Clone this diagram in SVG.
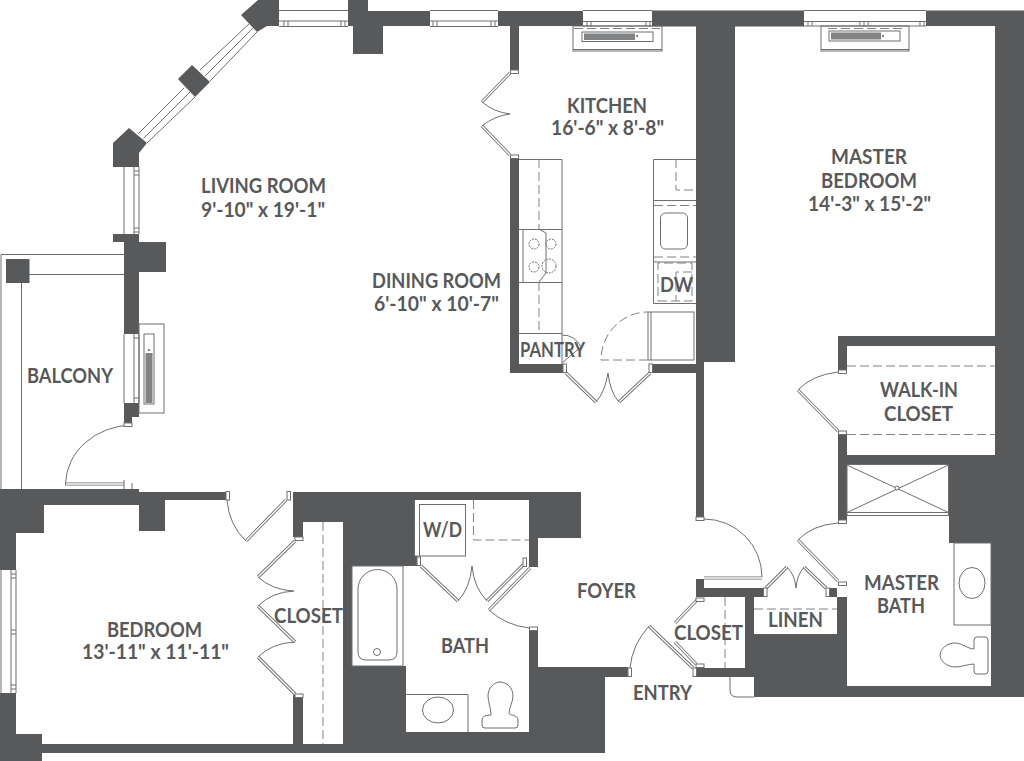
<svg xmlns="http://www.w3.org/2000/svg" width="1024" height="761" viewBox="0 0 1024 761">
<style>
.w{fill:#58595b}
.l{fill:none;stroke:#6d6e71;stroke-width:1}
.f{fill:#fff;stroke:#6d6e71;stroke-width:1}
.d{fill:none;stroke:#808285;stroke-width:1;stroke-dasharray:9 4}
.lo{fill:none;stroke:#6d6e71;stroke-width:3.2}
.li{fill:none;stroke:#fff;stroke-width:1.4}
.h{fill:#58595b}
text{font-family:"Lato","Open Sans",sans-serif;font-weight:700;font-size:20.5px;fill:#58595b}
</style>
<defs>
<path id="leaves" d="M510,73L482,102M510,155L482,126M566,373L596,402M650,373L619,402M286,500L246,541M295,541L258,577M258,606L295,642M258,657L295,694M421,566L458,601M487,601L523,565M489,610L530,568M704,578H762M766,588L787,567M804,567L826,588M838,581L798,540M838,431L798,390M649,626L693,668M697,600L675,623M675,642L696,664"/>
<g id="jamb"><rect width="8" height="3.5" class="f"/></g>
<g id="jambv"><rect width="3.5" height="8.5" class="f"/></g>
</defs>
<rect width="1024" height="761" fill="#fff"/>

<g id="walls">
<polygon class="w" points="241,15 258,0 279,0 279,26 267,26 257,32"/>
<polygon class="w" points="348,0 368,0 368,11 430,11 430,26 383,26 383,54 353,54 353,26 348,26"/>
<polygon class="w" points="178,79 192,65 210,82 195,97"/>
<polygon class="w" points="113,143 129,128 147,143 139,153 139,167 113,167"/>
<polygon class="w" points="498,11 583,11 583,26 519,26 519,71 510,71 510,26 498,26"/>
<rect class="w" x="652" y="10.500" width="152" height="16"/>
<polygon class="w" points="926,10.500 1024,10.500 1024,697 754,697 754,634 837,634 837,588 827,588 827,597 847,597 847,686 991,686 991,543 949,543 949,464 847,464 847,523 838,523 838,432 847,432 847,455 995,455 995,346 847,346 847,370 838,370 838,336 995,336 995,26 926,26"/>
<polygon class="w" points="696,26 735,26 735,362 704,362 704,517 696,517"/>
<rect class="w" x="510" y="158" width="9" height="215"/>
<rect class="w" x="510" y="364" width="53" height="9"/>
<rect class="w" x="652" y="364" width="44" height="9"/>
<polygon class="w" points="696,579 704,579 704,588 764,588 764,597 754,597 754,677 696,677 696,668 745,668 745,597 696,597"/>
<polygon class="w" points="113,234 139,234 139,242 166,242 166,272 139,272 139,334 124,334 124,242 113,242"/>
<polygon class="w" points="124,403 139,403 139,417 132,417 132,423 124,423"/>
<polygon class="w" points="0,489 139,489 139,492 226,492 226,500 165,500 165,531 139,531 139,505 44,505 44,533 16,533 16,570 0,570"/>
<polygon class="w" points="0,693 16,693 16,734 42,734 42,744 293,744 293,695 303,695 303,744 343,744 343,522 303,522 303,537 293,537 293,492 581,492 581,538 538,538 538,567 529,567 529,500 414,500 414,556 417,556 417,566 352,566 352,666 406,666 406,732 529,732 529,630 538,630 538,667 628,667 628,677 605,677 605,753 42,753 42,761 0,761"/>
</g>

<g id="windows">
<path class="l" d="M279,10.500H348M279,21H348M279,26.500H348M430,10.500H498M430,21H498M430,26.500H498M583,10.500H652M583,21.500H652M583,26H652M804,10.500H926M804,21.500H926M804,26H926"/>
<path class="l" d="M284,21V26M288,21V26M341,21V26M345,21V26M433,21V26M437,21V26M491,21V26M495,21V26M587,21V26M591,21V26M646,21V26M650,21V26M808,21V26M812,21V26M860,21V26M864,21V26M868,21V26M920,21V26M924,21V26"/>
<path class="l" d="M138,134L184,88M147,143L195,97M143.500,138.500L190,92M200,70L250,23M210,81L257,32M205,76L253,28"/>
<path class="l" d="M124,167V234M134,167V234M139,167V234M134,171H139M134,175H139M134,228H139M134,232H139"/>
<path class="l" d="M124,334V403M134,334V403M139,334V403M134,338H139M134,398H139"/>
<path class="l" d="M1,570V693M11,570V693M16,570V693M11,574H16M11,578H16M11,630H16M11,634H16M11,685H16M11,689H16"/>
</g>

<g id="balcony">
<path class="l" d="M124,254.500H1V489M29,274.500H124M21.500,283V489"/>
<rect class="w" x="6" y="259" width="23.500" height="24"/>
</g>

<g id="heaters">
<g>
<rect class="l" x="573" y="26" width="89" height="25"/>
<path class="l" d="M573,49.500H662"/>
<path class="d" d="M574,28.500H660"/>
<rect class="l" x="582" y="32" width="71" height="9.500"/>
<rect class="h" x="584" y="33.500" width="51" height="6.500" opacity=".75"/>
<circle class="h" cx="637" cy="36" r="1"/>
</g>
<g>
<rect class="l" x="821" y="26" width="88" height="25"/>
<path class="l" d="M821,49.500H909"/>
<path class="d" d="M828,28.500H902"/>
<rect class="l" x="829" y="31" width="71" height="10"/>
<rect class="h" x="831" y="32.500" width="50" height="7" opacity=".75"/>
<circle class="h" cx="883" cy="36" r="1"/>
</g>
<g>
<rect class="l" x="139" y="324" width="25" height="89"/>
<rect class="l" x="144" y="334" width="10" height="70"/>
<rect class="h" x="145.500" y="353" width="7" height="50" opacity=".75"/>
<circle class="h" cx="149" cy="350" r="1"/>
</g>
</g>

<g id="kitchen">
<path class="l" d="M519,159.500H562V364M519,229.500H562M519,282.500H562M519,333.500H562M523,229.500V282.500M539,229L546,233V273L539,282"/>
<path class="d" d="M539,159V229M539,282V333"/>
<circle class="l" cx="534" cy="244" r="5" stroke-dasharray="2 1"/>
<circle class="l" cx="551" cy="244" r="5" stroke-dasharray="2 1"/>
<circle class="l" cx="534" cy="267" r="5" stroke-dasharray="2 1"/>
<circle class="l" cx="549" cy="266" r="7" stroke-dasharray="2 1"/>
<path class="l" d="M562,363L581,347A20,20 0 0 0 562,335"/>
<path class="l" d="M696,159.500H653.500V303.500H696M653.500,200.500H696M653.500,262H696"/>
<path class="d" d="M676,159V190H696M654,205.500H696M654,257H696M692,272H676V301M658,301H692V263H658Z"/>
<rect class="l" x="660.500" y="213" width="27" height="36" rx="5"/>
<rect class="l" x="648" y="312" width="46" height="48"/>
<path class="l" d="M651,312V360"/>
<path class="d" d="M648,360H601A47,48 0 0 1 648,312"/>
</g>

<g id="bath">
<rect class="l" x="352" y="566" width="51" height="100"/>
<path class="l" d="M358,589A19.500,19.500 0 0 1 397,589V652Q397,660 389,660H366Q358,660 358,652Z"/>
<circle class="l" cx="377" cy="652" r="3.500"/>
<path class="l" d="M406,694.500H468V732M414.500,500V556H419"/>
<ellipse class="l" cx="438" cy="710" rx="15.500" ry="13"/>
<path class="l" d="M491,715C491,708 488,702 488,696C488,688 494,682 500,682C507,682 513,688 513,696C513,702 509,708 509,713C509,716 518,714 518,720V725Q518,728 515,728H485Q482,728 482,725V720Q482,715 491,715Z"/>
<rect class="l" x="419.500" y="504.500" width="46" height="51.500"/>
<path class="d" d="M473.500,500V540H529"/>
</g>

<g id="closets">
<path class="d" d="M323,522V744M725,597V668M754,609H837M847,366H995M847,434.500H995"/>
</g>

<g id="master-bath">
<rect class="l" x="847" y="464.500" width="101.500" height="51"/>
<path class="l" d="M847,512.500H948.500M847,465L948.500,512.500M948.500,465L847,512.500"/>
<circle class="f" cx="897" cy="488" r="2"/>
<rect class="l" x="954" y="543" width="37" height="82"/>
<ellipse class="l" cx="972" cy="583" rx="13" ry="15.500"/>
<path class="l" d="M974,649C968,649 962,643 955,643C947,643 940,649 940,655C940,661 947,667 955,667C962,667 968,664 974,664V671Q974,674 977,674H985Q988,674 988,671V640Q988,637 985,637H977Q974,637 974,640Z"/>
<path class="l" d="M730,677V690Q730,697 737,697H754"/>
</g>

<g id="doors">
<use href="#leaves" class="lo"/>
<use href="#leaves" class="li"/>
<path class="l" d="M482,102Q494,112 510,114Q494,116 482,126M596,402Q605,392 608,373Q610,392 619,402M132,425A68,60 0 0 0 65.500,484M227,500Q229,525 246,541M258,577Q272,590 294,591Q272,592 258,606M258,657Q272,643 295,642M472,566Q470,588 458,601M472,566Q474,588 487,601M489,610Q505,625 529,628M704,519A58,58 0 0 1 762,577M787,567Q795,575 796,588Q797,575 804,567M798,540Q812,525 838,523M798,390Q812,375 838,372M630,668Q632,645 649,626"/>
<path class="lo" d="M65,484H124"/>
<path class="li" d="M66,484H124"/>
<path class="l" d="M124,480V489M132,483V489"/>
<use href="#jamb" x="510.500" y="70"/>
<use href="#jamb" x="510.500" y="155"/>
<use href="#jambv" x="563" y="364"/>
<use href="#jambv" x="649" y="364"/>
<use href="#jambv" x="226" y="491.500"/>
<use href="#jambv" x="287" y="491.500"/>
<use href="#jamb" x="295" y="537"/>
<use href="#jamb" x="295" y="694"/>
<use href="#jambv" x="417" y="557"/>
<use href="#jambv" x="523" y="558"/>
<use href="#jamb" x="529.500" y="627"/>
<use href="#jamb" x="696" y="517"/>
<use href="#jamb" x="696" y="598"/>
<use href="#jamb" x="696" y="664"/>
<use href="#jambv" x="763.500" y="588"/>
<use href="#jambv" x="826" y="588"/>
<use href="#jamb" x="838.500" y="582"/>
<use href="#jamb" x="838.500" y="520"/>
<use href="#jamb" x="838.500" y="431"/>
<use href="#jamb" x="838.500" y="370"/>
<use href="#jambv" x="628" y="668"/>
<use href="#jambv" x="693" y="668"/>
<use href="#jamb" x="124" y="423"/>
</g>

<g id="labels">
<text x="201" y="193" textLength="125" lengthAdjust="spacingAndGlyphs">LIVING ROOM</text>
<text x="201" y="217" textLength="124" lengthAdjust="spacingAndGlyphs">9'-10" x 19'-1"</text>
<text x="372" y="288" textLength="129" lengthAdjust="spacingAndGlyphs">DINING ROOM</text>
<text x="374" y="311" textLength="125" lengthAdjust="spacingAndGlyphs">6'-10" x 10'-7"</text>
<text x="27" y="383" textLength="86" lengthAdjust="spacingAndGlyphs">BALCONY</text>
<text x="567" y="113" textLength="80" lengthAdjust="spacingAndGlyphs">KITCHEN</text>
<text x="551" y="135" textLength="113" lengthAdjust="spacingAndGlyphs">16'-6" x 8'-8"</text>
<text x="831" y="164" textLength="76" lengthAdjust="spacingAndGlyphs">MASTER</text>
<text x="821" y="188" textLength="96" lengthAdjust="spacingAndGlyphs">BEDROOM</text>
<text x="808" y="211" textLength="123" lengthAdjust="spacingAndGlyphs">14'-3" x 15'-2"</text>
<text x="660" y="292" textLength="33" lengthAdjust="spacingAndGlyphs">DW</text>
<text x="520" y="357" textLength="65" lengthAdjust="spacingAndGlyphs">PANTRY</text>
<text x="880" y="397" textLength="78" lengthAdjust="spacingAndGlyphs">WALK-IN</text>
<text x="884" y="421" textLength="69" lengthAdjust="spacingAndGlyphs">CLOSET</text>
<text x="864" y="590" textLength="75" lengthAdjust="spacingAndGlyphs">MASTER</text>
<text x="877" y="613" textLength="48" lengthAdjust="spacingAndGlyphs">BATH</text>
<text x="768" y="627" textLength="55" lengthAdjust="spacingAndGlyphs">LINEN</text>
<text x="674" y="640" textLength="69" lengthAdjust="spacingAndGlyphs">CLOSET</text>
<text x="633" y="700" textLength="59" lengthAdjust="spacingAndGlyphs">ENTRY</text>
<text x="577" y="598" textLength="59" lengthAdjust="spacingAndGlyphs">FOYER</text>
<text x="107" y="637" textLength="95" lengthAdjust="spacingAndGlyphs">BEDROOM</text>
<text x="82" y="659" textLength="147" lengthAdjust="spacingAndGlyphs">13'-11" x 11'-11"</text>
<text x="274" y="623" textLength="69" lengthAdjust="spacingAndGlyphs">CLOSET</text>
<text x="423" y="537" textLength="39" lengthAdjust="spacingAndGlyphs">W/D</text>
<text x="441" y="653" textLength="48" lengthAdjust="spacingAndGlyphs">BATH</text>
</g>
</svg>
